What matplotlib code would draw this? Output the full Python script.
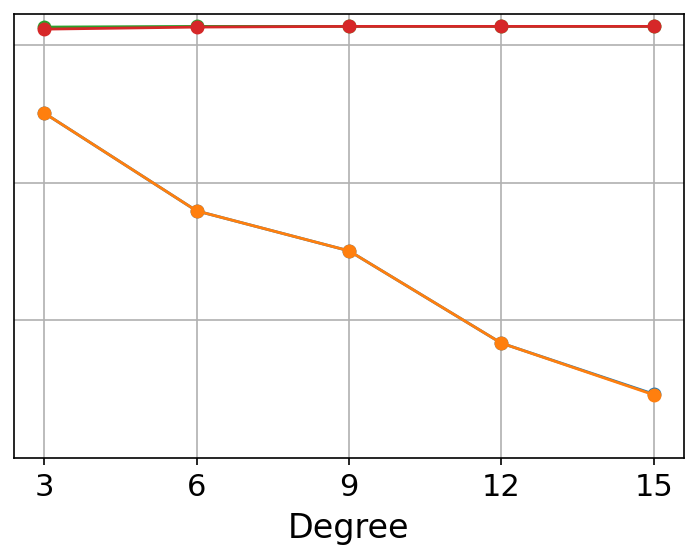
import numpy as np
import matplotlib.pyplot as plt

degree = [3, 6, 9, 12, 15]

# four series, blue/orange nearly overlap, green/red nearly overlap
series_blue = [0.501, 0.359, 0.301, 0.167, 0.093]
series_orange = [0.501, 0.359, 0.301, 0.167, 0.092]
series_green = [0.626, 0.627, 0.627, 0.627, 0.627]
series_red = [0.623, 0.626, 0.627, 0.627, 0.627]

grid_ticks = [0.2, 0.4, 0.6]

fig = plt.figure(figsize=(6.98, 5.6), dpi=100)
ax = fig.add_axes([0.02, 0.182, 0.96, 0.793])

for ys, c in [(series_blue, "tab:blue"), (series_orange, "tab:orange"),
              (series_green, "tab:green"), (series_red, "tab:red")]:
    ax.plot(degree, ys, "o-", color=c, lw=2, ms=9)

ax.set_xticks(degree)
ax.set_yticks(grid_ticks)
ax.set_yticklabels([])
ax.tick_params(axis="y", length=0)
ax.tick_params(axis="x", labelsize=22, length=5, width=1.2, pad=6)
ax.set_ylim(0, 0.645)
ax.set_xlabel("Degree", fontsize=24, labelpad=7)
ax.grid(True, color="#b0b0b0", lw=1.2)
ax.set_axisbelow(True)
for s in ax.spines.values():
    s.set_linewidth(1.2)

fig.savefig("out.png", dpi=100)
